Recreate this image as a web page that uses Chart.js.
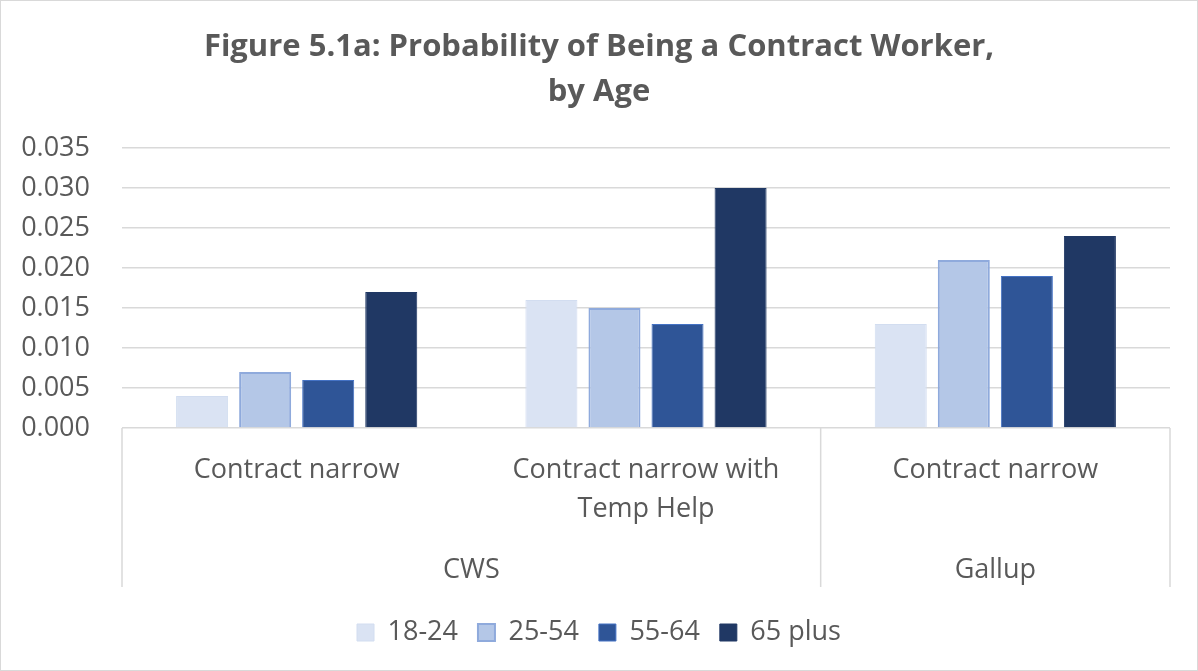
<!DOCTYPE html>
<html>
<head>
<meta charset="utf-8">
<script src="https://cdn.jsdelivr.net/npm/chart.js@4.4.0/dist/chart.umd.min.js"></script>
<style>
  body { margin: 0; background: #fff; }
  canvas { display: block; }
</style>
</head>
<body>
<canvas id="ageChart" width="1198" height="671"></canvas>
<script>
// categories (multi-line labels) and their top-level groups
const categories = [['Contract narrow'], ['Contract narrow with', 'Temp Help'], ['Contract narrow']];
const groupNames = ['CWS', 'Gallup'];
const groupSizes = [2, 1];

const ageGroups = ['18-24', '25-54', '55-64', '65 plus'];
const age18_24 = [0.004, 0.016, 0.013];
const age25_54 = [0.007, 0.015, 0.021];
const age55_64 = [0.006, 0.013, 0.019];
const age65plus = [0.017, 0.030, 0.024];

const yTicks = [0, 0.005, 0.010, 0.015, 0.020, 0.025, 0.030, 0.035];

const FONT = '"Open Sans", Lato, sans-serif';
const TEXT = '#595959';
const GRID = '#d9d9d9';
const SIZE = 27;

// white background + thin outer frame
const frame = {
    id: 'frame',
    beforeDraw(chart) {
        const c = chart.ctx;
        c.save();
        c.fillStyle = '#fff';
        c.fillRect(0, 0, chart.width, chart.height);
        c.strokeStyle = GRID;
        c.lineWidth = 1;
        c.strokeRect(0.5, 0.5, chart.width - 1, chart.height - 1);
        c.restore();
    }
};

// the Excel-style multi-level category box with group labels
const groupAxis = {
    id: 'groupAxis',
    afterDraw(chart) {
        const x = chart.scales.x;
        const area = chart.chartArea;
        const c = chart.ctx;
        const bottom = area.bottom + 159;
        const half = (x.getPixelForValue(1) - x.getPixelForValue(0)) / 2;

        c.save();
        c.strokeStyle = GRID;
        c.lineWidth = 1.5;
        c.fillStyle = TEXT;
        c.font = SIZE + 'px ' + FONT;
        c.textAlign = 'center';
        c.textBaseline = 'middle';

        let start = 0;
        const edges = [x.getPixelForValue(0) - half];
        groupSizes.forEach((n, i) => {
            const left = x.getPixelForValue(start) - half;
            const right = x.getPixelForValue(start + n - 1) + half;
            edges.push(right);
            c.fillText(groupNames[i], (left + right) / 2, area.bottom + 142);
            start += n;
        });
        edges.forEach(px => {
            c.beginPath();
            c.moveTo(px, area.bottom);
            c.lineTo(px, bottom);
            c.stroke();
        });
        c.restore();
    }
};

const ctx = document.getElementById('ageChart').getContext('2d');
new Chart(ctx, {
    type: 'bar',
    data: {
        labels: categories,
        datasets: [
            { label: ageGroups[0], data: age18_24, backgroundColor: '#dae3f3', borderColor: '#d2ddf0', borderWidth: 1 },
            { label: ageGroups[1], data: age25_54, backgroundColor: '#b4c7e7', borderColor: '#8faadc', borderWidth: 2 },
            { label: ageGroups[2], data: age55_64, backgroundColor: '#2f5597', borderColor: '#4472c4', borderWidth: 1 },
            { label: ageGroups[3], data: age65plus, backgroundColor: '#203864', borderColor: '#203864', borderWidth: 1 }
        ]
    },
    options: {
        responsive: false,
        animation: false,
        categoryPercentage: 0.722,
        barPercentage: 0.825,
        layout: { padding: { left: 0, right: 0, top: 0, bottom: 15 } },
        plugins: {
            title: {
                display: true,
                text: ['Figure 5.1a: Probability of Being a Contract Worker,', 'by Age'],
                color: TEXT,
                font: { family: FONT, size: 31, weight: 'bold', lineHeight: 1.45 },
                padding: { top: 25, bottom: 33 }
            },
            legend: {
                position: 'bottom',
                labels: {
                    color: TEXT,
                    font: { family: FONT, size: SIZE },
                    boxWidth: 17,
                    boxHeight: 17,
                    padding: 20
                }
            },
            tooltip: { enabled: false }
        },
        scales: {
            x: {
                grid: { display: false },
                border: { display: false },
                ticks: {
                    color: TEXT,
                    font: { family: FONT, size: SIZE, lineHeight: 1.45 },
                    padding: 15,
                    maxRotation: 0,
                    autoSkip: false
                },
                afterFit(scale) { scale.height = 171; }
            },
            y: {
                min: 0,
                max: 0.035,
                afterBuildTicks(scale) { scale.ticks = yTicks.map(v => ({ value: v })); },
                grid: { color: GRID, lineWidth: 1.5, drawTicks: false },
                border: { display: false },
                ticks: {
                    color: TEXT,
                    font: { family: FONT, size: SIZE },
                    padding: 32,
                    callback: v => Number(v).toFixed(3)
                },
                afterFit(scale) { scale.width = 122; }
            },
            // empty right-hand strip so the plot stops short of the edge
            // while title and legend stay centred on the whole canvas
            yRight: {
                position: 'right',
                display: true,
                grid: { display: false },
                border: { display: false },
                ticks: { display: false },
                afterFit(scale) { scale.width = 28; }
            }
        }
    },
    plugins: [frame, groupAxis]
});
</script>
</body>
</html>
